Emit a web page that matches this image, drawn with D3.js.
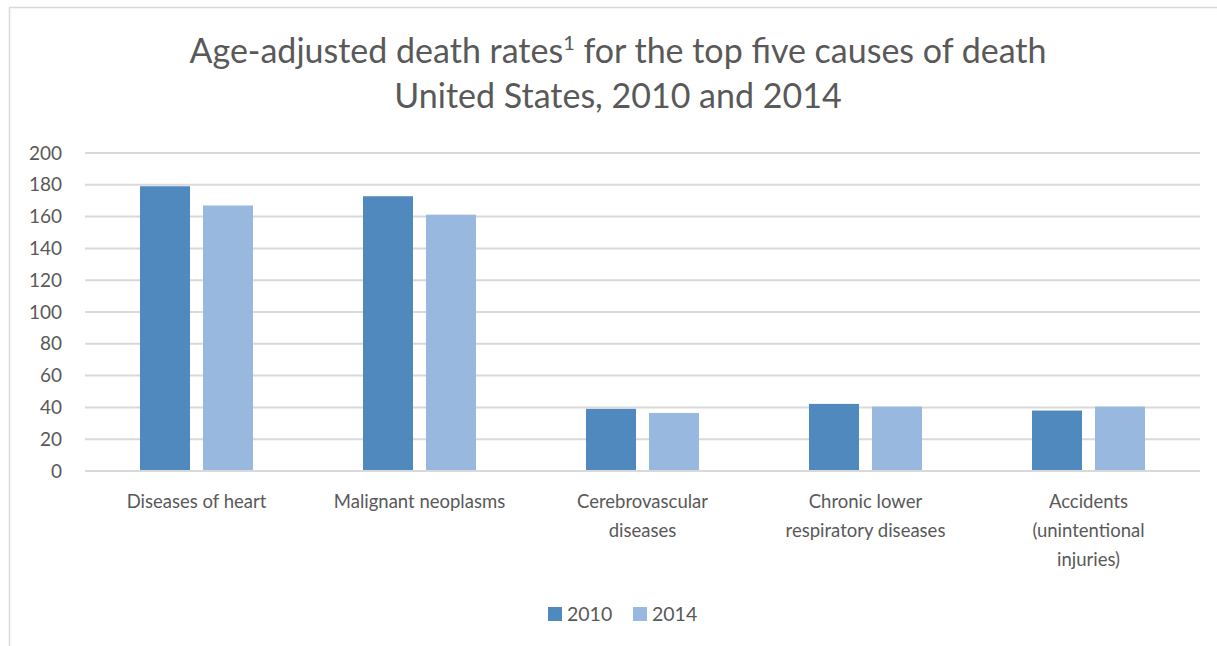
<!DOCTYPE html>
<html><head><meta charset="utf-8">
<script src="https://cdn.jsdelivr.net/npm/d3@7"></script>
<style>body{margin:0;background:#fff}svg{display:block}</style>
</head><body>
<script>
const categories = [["Diseases of heart"],["Malignant neoplasms"],["Cerebrovascular","diseases"],["Chronic lower","respiratory diseases"],["Accidents","(unintentional","injuries)"]];
const series = ["2010","2014"];
const values2010 = [179.1, 172.8, 39.1, 42.2, 38.0];
const values2014 = [167.0, 161.2, 36.5, 40.5, 40.5];
const yTicks = [0,20,40,60,80,100,120,140,160,180,200];
const colors = ["#4F89BD","#98B8DF"];

const W=1217,H=646;
const svg=d3.select("body").append("svg").attr("width",W).attr("height",H);
const font="Lato, 'Open Sans', sans-serif";
const txt="#595959";

// frame
svg.append("path").attr("d",`M9.5,${H} V7.5 H${W}`).attr("fill","none").attr("stroke","#d9d9d9").attr("stroke-width",1.5);

const x0=d3.scaleBand().domain(d3.range(5)).range([85,1200]).paddingInner(0).paddingOuter(0);
const y=d3.scaleLinear().domain([0,200]).range([471,153]);

// gridlines
svg.append("g").selectAll("line").data(yTicks).join("line")
  .attr("x1",85).attr("x2",1200).attr("y1",d=>y(d)).attr("y2",d=>y(d))
  .attr("stroke","#d9d9d9").attr("stroke-width",2);

// y labels
svg.append("g").selectAll("text").data(yTicks).join("text")
  .attr("x",62).attr("y",d=>y(d)).attr("dy","0.35em").attr("text-anchor","end")
  .attr("font-family",font).attr("font-size",19).attr("fill",txt).text(d=>d);

const barW=50, gap=13;
const data=[values2010,values2014];
data.forEach((vals,si)=>{
  svg.append("g").selectAll("rect").data(vals).join("rect")
    .attr("x",(d,i)=>x0(i)+x0.bandwidth()/2 - (barW*2+gap)/2 + si*(barW+gap))
    .attr("width",barW)
    .attr("y",d=>y(d)).attr("height",d=>y(0)-y(d))
    .attr("fill",colors[si]);
});
// baseline on top
svg.append("line").attr("x1",85).attr("x2",1200).attr("y1",y(0)).attr("y2",y(0)).attr("stroke","#d9d9d9").attr("stroke-width",2);

// category labels
const cl=svg.append("g").selectAll("text").data(categories).join("text")
  .attr("text-anchor","middle").attr("font-family",font).attr("font-size",18.5).attr("fill",txt)
  .attr("x",(d,i)=>x0(i)+x0.bandwidth()/2).attr("y",508);
cl.each(function(lines){
  const t=d3.select(this);
  lines.forEach((l,j)=>t.append("tspan").attr("x",t.attr("x")).attr("dy",j?29:0).text(l));
});

// title
const t1=svg.append("text").attr("x",618).attr("y",63).attr("text-anchor","middle")
  .attr("font-family",font).attr("font-size",34).attr("fill",txt);
t1.append("tspan").text("Age-adjusted death rates");
t1.append("tspan").attr("font-size",20).attr("dy",-13).text("1");
t1.append("tspan").attr("dy",13).text(" for the top five causes of death");
svg.append("text").attr("x",618).attr("y",108).attr("text-anchor","middle")
  .attr("font-family",font).attr("font-size",34).attr("fill",txt).text("United States, 2010 and 2014");

// legend
const leg=svg.append("g");
const legX=[548,633];
series.forEach((s,i)=>{
  leg.append("rect").attr("x",legX[i]).attr("y",607).attr("width",14).attr("height",14).attr("fill",colors[i]);
  leg.append("text").attr("x",legX[i]+19).attr("y",614).attr("dy","0.35em").attr("font-family",font)
    .attr("font-size",19.5).attr("fill",txt).text(s);
});
</script>
</body></html>
